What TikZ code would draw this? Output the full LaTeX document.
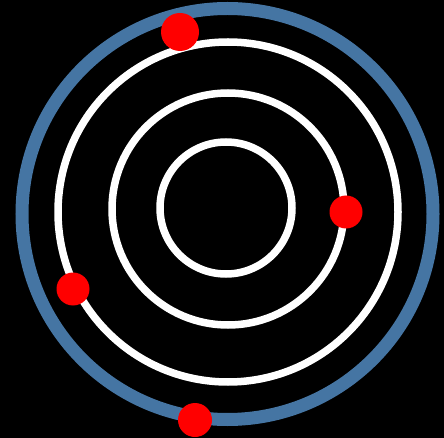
\documentclass[tikz,border=0pt]{standalone}
\usepackage{xcolor}
\usepackage{tikz}
\usetikzlibrary{positioning,calc}

\definecolor{orbitblue}{RGB}{69,117,163}

\begin{document}
\begin{tikzpicture}[x=1pt, y=-1pt,
    orbit/.style={draw=white, line width=7.5pt},
    electron/.style={circle, fill=red, inner sep=0pt, minimum size=#1}]
  \fill[black] (0,0) rectangle (444,438);
  \useasboundingbox (0,0) rectangle (444,438);

  % orbits
  \coordinate (CB) at (227.5,214);
  \coordinate (C3) at (228,212);
  \coordinate (C2) at (228,209);
  \coordinate (C1) at (226,208);
  \draw[orbitblue, line width=13pt] (CB) circle (205.5);
  \draw[orbit] (C3) circle (170);
  \draw[orbit] (C2) circle (116);
  \draw[orbit] (C1) circle (66);

  % electrons
  \node[electron=38pt] (E1) at (180,32) {};
  \node[electron=33pt] (E2) at (346,212) {};
  \node[electron=33pt] (E3) at (73,289) {};
  \node[electron=34pt] (E4) at (195,420) {};
\end{tikzpicture}
\end{document}
